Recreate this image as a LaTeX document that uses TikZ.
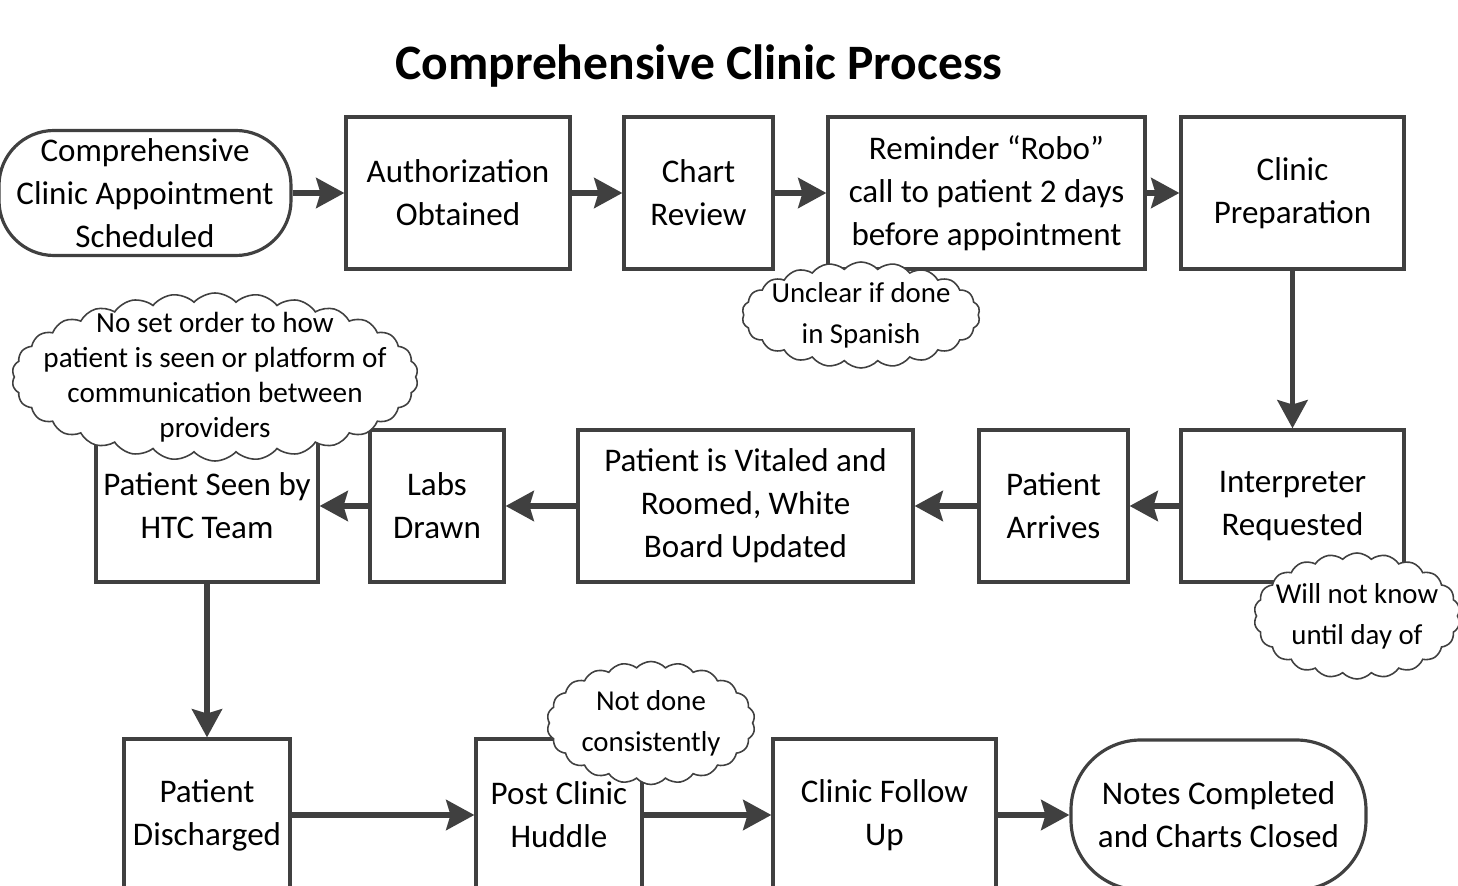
\documentclass[tikz,border=0pt]{standalone}
\usepackage{fontspec}
\setmainfont{Carlito}
\usetikzlibrary{arrows.meta, shapes.symbols}
\definecolor{linegray}{HTML}{404040}
\newcommand{\boxfont}{\fontsize{9.4}{12.2}\selectfont}
\newcommand{\notefont}{\fontsize{8.2}{11.6}\selectfont}

\tikzset{
  procbox/.style={draw=linegray, line width=0.9pt, fill=white, align=center, font=\boxfont, inner sep=1pt},
  termbox/.style={procbox, rounded corners=5.5mm},
  note/.style={cloud, cloud ignores aspect, cloud puffs=22, cloud puff arc=95, draw=linegray, line width=0.45pt,
    fill=white, inner sep=0pt},
  notetext/.style={label={[align=center, font=\notefont]center:#1}}
}
\tikzset{
  flow/.style={draw=linegray, line width=1.7pt, -{Stealth[length=8pt, width=8.5pt, inset=1.2pt]}}
}

\begin{document}
\begin{tikzpicture}[x=0.1mm, y=-0.1mm]
  \clip (0,0) rectangle (1458,886);
  % title
  \node[font=\fontsize{14.1}{17}\selectfont\bfseries] (title) at (699,66) {Comprehensive Clinic Process};

  % first row
  \node[termbox, minimum width=29.2mm, minimum height=12.5mm] (sched) at (145,193) {Comprehensive\\Clinic Appointment\\Scheduled};
  \node[procbox, minimum width=22.4mm, minimum height=15.2mm] (auth) at (458,193) {Authorization\\Obtained};
  \node[procbox, minimum width=14.9mm, minimum height=15.2mm] (chart) at (698.5,193) {Chart\\Review};
  \node[procbox, minimum width=31.7mm, minimum height=15.2mm] (robo) at (986.5,193) {Reminder ``Robo''\\call to patient 2 days\\before appointment};
  \node[procbox, minimum width=22.3mm, minimum height=15.2mm] (prep) at (1292.5,193) {Clinic\\Preparation};

  % second row
  \node[procbox, minimum width=22.3mm, minimum height=15.2mm] (interp) at (1292.5,506) {Interpreter\\Requested};
  \node[procbox, minimum width=14.9mm, minimum height=15.2mm] (arrive) at (1053.5,506) {Patient\\Arrives};
  \node[procbox, minimum width=33.5mm, minimum height=15.2mm] (vital) at (745.5,506) {Patient is Vitaled and\\Roomed, White\\Board Updated};
  \node[procbox, minimum width=13.4mm, minimum height=15.2mm] (labs) at (437,506) {Labs\\Drawn};
  \node[procbox, minimum width=22.2mm, minimum height=15.2mm] (seen) at (207,506) {Patient Seen by\\HTC Team};

  % third row
  \node[procbox, minimum width=16.6mm, minimum height=15.2mm] (disch) at (207,815) {Patient\\Discharged};
  \node[procbox, minimum width=16.6mm, minimum height=15.2mm] (huddle) at (559,815) {Post Clinic\\Huddle};
  \node[procbox, minimum width=22.3mm, minimum height=15.2mm] (follow) at (884.5,815) {Clinic Follow\\Up};
  \node[termbox, rounded corners=7mm, minimum width=29.5mm, minimum height=15mm] (notes) at (1218.5,815) {Notes Completed\\and Charts Closed};

  % connectors
  \draw[flow] (sched) -- (auth);
  \draw[flow] (auth) -- (chart);
  \draw[flow] (chart) -- (robo);
  \draw[flow] (robo) -- (prep);
  \draw[flow] (prep) -- (interp);
  \draw[flow] (interp) -- (arrive);
  \draw[flow] (arrive) -- (vital);
  \draw[flow] (vital) -- (labs);
  \draw[flow] (labs) -- (seen);
  \draw[flow] (seen) -- (disch);
  \draw[flow] (disch) -- (huddle);
  \draw[flow] (huddle) -- (follow);
  \draw[flow] (follow) -- (notes);

  % notes
  \node[note, minimum width=23.8mm, minimum height=10.6mm,
    notetext={Unclear if done\\in Spanish}] (spanish) at (861,315) {};
  \node[note, cloud puffs=30, minimum width=40.6mm, minimum height=16.8mm,
    label={[align=center, font=\fontsize{8.3}{10}\selectfont]center:No set order to how\\patient is seen or platform of\\communication between\\providers}] (order) at (215,377) {};
  \node[note, minimum width=20.6mm, minimum height=12.6mm,
    notetext={Will not know\\until day of}] (dayof) at (1357,616) {};
  \node[note, minimum width=20.8mm, minimum height=12.3mm,
    notetext={Not done\\consistently}] (consist) at (651,723) {};
\end{tikzpicture}
\end{document}
